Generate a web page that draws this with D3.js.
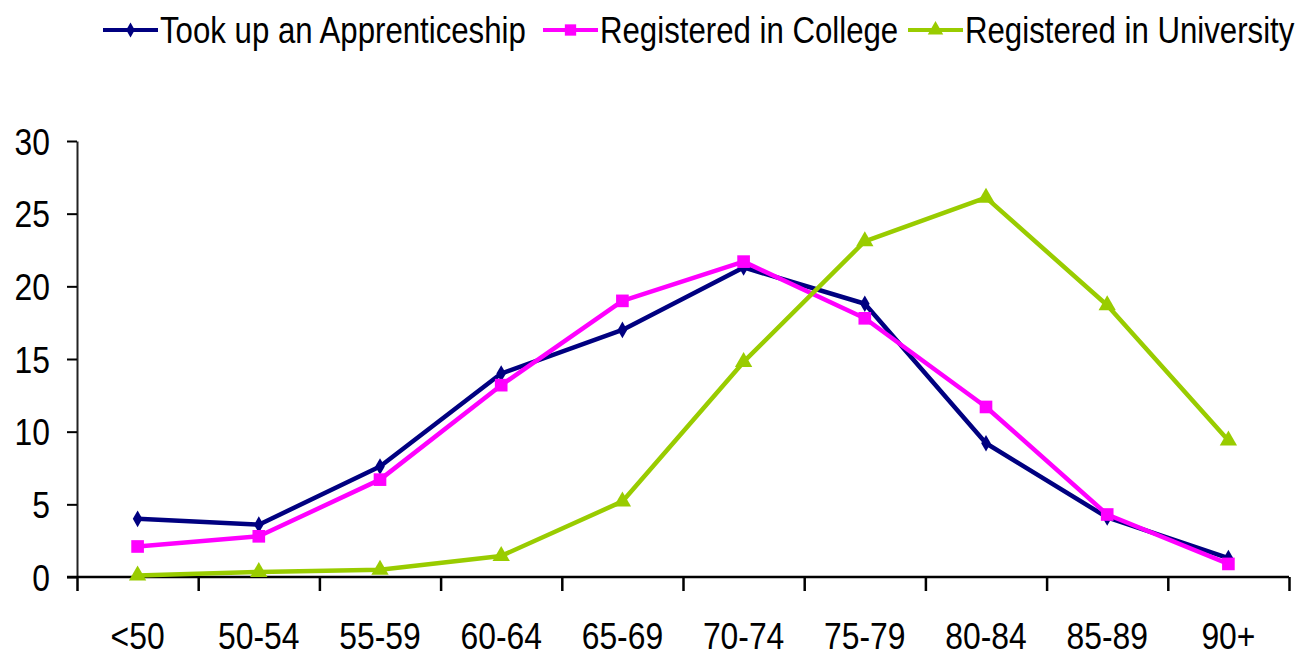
<!DOCTYPE html>
<html>
<head>
<meta charset="utf-8">
<script src="https://cdn.jsdelivr.net/npm/d3@7"></script>
<style>
  body { margin: 0; background: #fff; }
  text { font-family: "Liberation Sans", Arial, sans-serif; fill: #000; }
</style>
</head>
<body>
<svg id="chart" width="1303" height="656"></svg>
<script>
// categories and series values
const categories = ["<50", "50-54", "55-59", "60-64", "65-69", "70-74", "75-79", "80-84", "85-89", "90+"];
const apprenticeship = [4.0, 3.6, 7.6, 14.0, 17.0, 21.3, 18.8, 9.2, 4.1, 1.3];
const college = [2.1, 2.8, 6.7, 13.2, 19.0, 21.7, 17.8, 11.7, 4.3, 0.9];
const university = [0.1, 0.35, 0.5, 1.45, 5.2, 14.8, 23.1, 26.1, 18.7, 9.4];
const yTicks = [0, 5, 10, 15, 20, 25, 30];
const seriesNames = ["Took up an Apprenticeship", "Registered in College", "Registered in University"];

const MARGINS = {top: 141, right: 14, bottom: 79, left: 77};
const WIDTH = 1303, HEIGHT = 656;
const SQUEEZE = 0.86; // the original text is horizontally condensed

const svg = d3.select("#chart");

const series = [
    {name: seriesNames[0], values: apprenticeship, color: "#000080", marker: d3.symbolDiamond, size: 80},
    {name: seriesNames[1], values: college, color: "#FF00FF", marker: d3.symbolSquare, size: 160},
    {name: seriesNames[2], values: university, color: "#99CC00", marker: d3.symbolTriangle, size: 130}
];

// scales
const xBand = d3.scaleBand()
    .domain(categories)
    .range([MARGINS.left, WIDTH - MARGINS.right]);
const xEdges = d3.scaleLinear()
    .domain([0, categories.length])
    .range([MARGINS.left, WIDTH - MARGINS.right]);
const y = d3.scaleLinear()
    .domain([0, 30])
    .range([HEIGHT - MARGINS.bottom, MARGINS.top]);

function squeeze(sel, factor) {
    factor = factor === undefined ? SQUEEZE : factor;
    sel.each(function() {
        const w = this.getComputedTextLength();
        d3.select(this)
            .attr("textLength", w * factor)
            .attr("lengthAdjust", "spacingAndGlyphs");
    });
}

// y axis
const yAxis = svg.append("g")
    .attr("transform", `translate(${MARGINS.left}, 0)`)
    .call(d3.axisLeft(y).tickValues(yTicks).tickSize(10).tickPadding(17).tickSizeOuter(0));
yAxis.select(".domain").attr("stroke", "#222").attr("stroke-width", 2);
yAxis.selectAll(".tick line").attr("stroke", "#000").attr("stroke-width", 2);
yAxis.selectAll(".tick text")
    .style("font-size", "37px")
    .attr("dy", "0.36em")
    .call(squeeze);

// x axis tick marks at the category boundaries
const xTicksAxis = svg.append("g")
    .attr("transform", `translate(0, ${y(0)})`)
    .call(d3.axisBottom(xEdges).ticks(categories.length).tickFormat("").tickSize(14).tickSizeOuter(0));
xTicksAxis.select(".domain").remove();
xTicksAxis.selectAll(".tick line").attr("stroke", "#000").attr("stroke-width", 2.5);

svg.append("line")
    .attr("x1", MARGINS.left - 10).attr("x2", xEdges(categories.length))
    .attr("y1", y(0)).attr("y2", y(0))
    .attr("stroke", "#000").attr("stroke-width", 2.5);

// x axis labels at the band centres
const xLabels = svg.append("g")
    .attr("transform", `translate(0, ${y(0)})`)
    .call(d3.axisBottom(xBand).tickSize(0).tickPadding(46));
xLabels.select(".domain").remove();
xLabels.selectAll(".tick text")
    .style("font-size", "37px")
    .call(squeeze);

// lines and markers
const line = d3.line()
    .x((d, i) => xBand(categories[i]) + xBand.bandwidth() / 2)
    .y(d => y(d));

series.forEach(function(s) {
    svg.append("path")
        .datum(s.values)
        .attr("d", line)
        .attr("fill", "none")
        .attr("stroke", s.color)
        .attr("stroke-width", 4.5)
        .attr("stroke-linejoin", "round");
    svg.selectAll(null)
        .data(s.values)
        .enter()
        .append("path")
        .attr("d", d3.symbol().type(s.marker).size(s.size))
        .attr("transform", (d, i) => `translate(${xBand(categories[i]) + xBand.bandwidth() / 2}, ${y(d)})`)
        .attr("fill", s.color);
});

// legend: smaller font stretched vertically instead of condensed horizontally
const legendX = [103, 543, 908];
series.forEach(function(s, i) {
    const g = svg.append("g").attr("transform", `translate(${legendX[i]}, 30)`);
    g.append("line")
        .attr("x1", 0).attr("x2", 55)
        .attr("y1", 0).attr("y2", 0)
        .attr("stroke", s.color).attr("stroke-width", 4);
    g.append("path")
        .attr("d", d3.symbol().type(s.marker).size(s.size * 0.8))
        .attr("transform", "translate(27.5, 0)")
        .attr("fill", s.color);
    g.append("text")
        .attr("transform", "translate(57, 13) scale(1, 1.18)")
        .style("font-size", "31.2px")
        .text(s.name);
});
</script>
</body>
</html>
